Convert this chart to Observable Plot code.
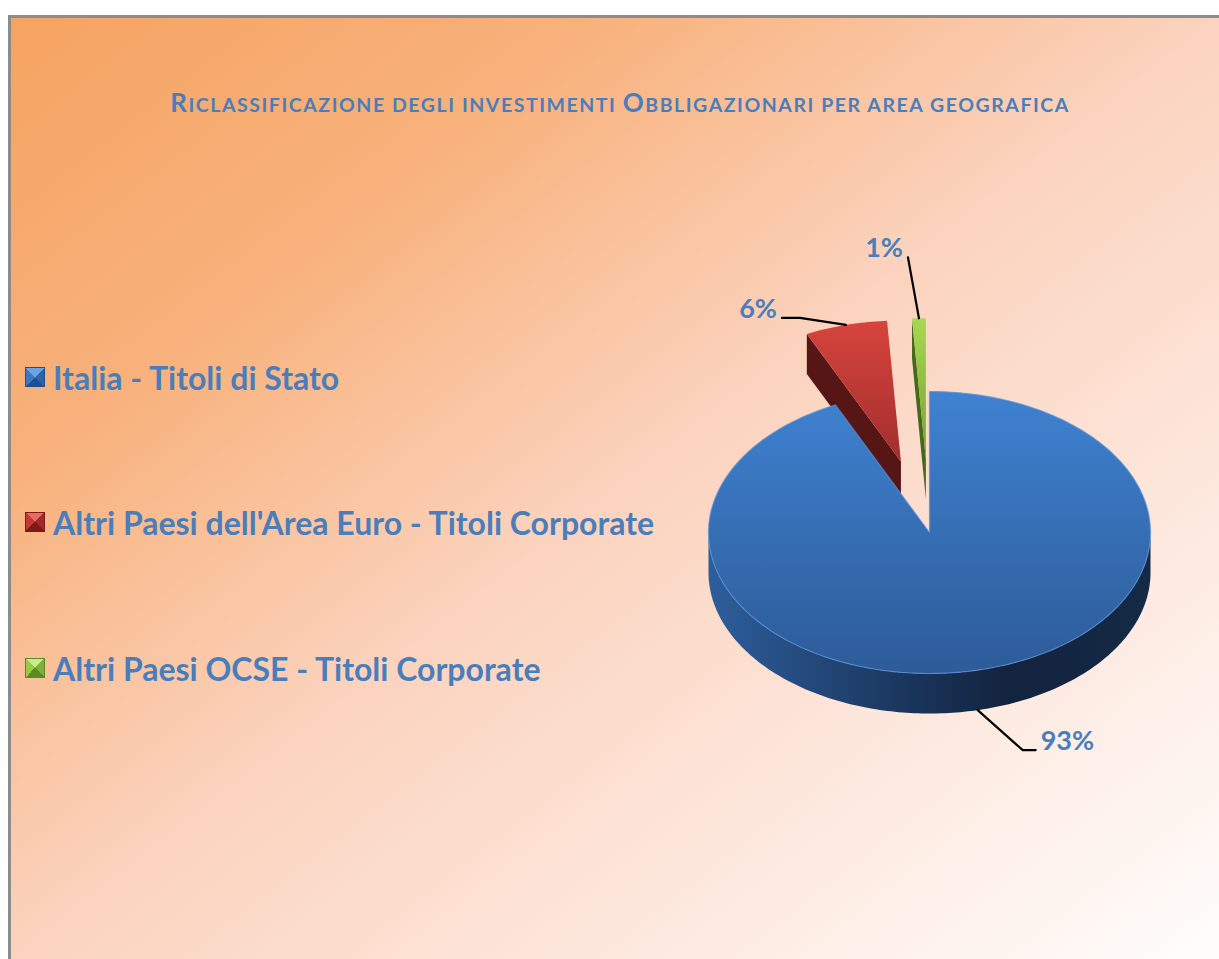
<!DOCTYPE html>
<html>
<head>
<meta charset="utf-8">
<script src="https://cdn.jsdelivr.net/npm/d3@7"></script>
<script src="https://cdn.jsdelivr.net/npm/@observablehq/plot@0.6"></script>
<style>
html, body { margin:0; padding:0; width:1219px; height:959px; overflow:hidden; background:#fff; font-family: Lato, "Open Sans", sans-serif; }
#frame { position:absolute; left:8px; top:15px; width:1211px; height:944px; box-sizing:border-box;
  border-left:3px solid #8c8c8c; border-top:3px solid #8c8c8c;
  background: linear-gradient(to bottom right, #f5a361 0%, #f8b27d 25%, #fbd3be 50%, #fde8de 75%, #fffdfc 100%); }
#title { position:absolute; left:8px; width:1224px; top:82px; height:40px; line-height:40px; text-align:center; color:#4a7ebb;
  font-weight:bold; font-family: Lato, sans-serif; white-space:nowrap; letter-spacing:1.55px; }
#title .big { font-size:26px; }
#title .small { font-size:19.5px; }
.leg { position:absolute; left:25px; display:flex; align-items:center; color:#4a7ebb; font: bold 32px Lato, sans-serif; white-space:nowrap; }
.sw { width:20px; height:20px; margin-right:8px; box-sizing:border-box; flex:none; }
#chart { position:absolute; left:0; top:0; }
</style>
</head>
<body>
<div id="frame"></div>
<div id="title"></div>
<div id="legend"></div>
<div id="chart"></div>
<script>
// ---- data ----
const titleText = "Riclassificazione degli investimenti Obbligazionari per area geografica";
const categories = [
  "Italia - Titoli di Stato",
  "Altri Paesi dell'Area Euro - Titoli Corporate",
  "Altri Paesi OCSE - Titoli Corporate"
];
const shares = [93, 6, 1];

// ---- layout / style ----
const W = 1219, H = 959;
const CX = 929, CY = 532, RX = 221, RY = 141, DEPTH = 40;
const explodeBy = [0, 0.52, 0.52];
const legendRowsY = [377, 522, 668];
const colors = [
  { top: ["#3f82d1", "#2d5b98"], side: "#1d3a63", swatch: ["#6aa3e6", "#3d78c2", "#1f4f8f", "#2f63a8"] },
  { top: ["#d6443d", "#a32e2c"], side: "#561616", swatch: ["#e86a63", "#c23a35", "#7d1a18", "#a02a27"] },
  { top: ["#a8d852", "#74a32e"], side: "#46691c", swatch: ["#c8ec86", "#99c948", "#5b8a22", "#7fb13a"] }
];
// leader line elbows (px offsets from rim anchor) and label side
const leaderOffsets = [
  [[45, 40], [58, 40]],
  [[-46, -7], [-64, -7]],
  [[-11, -61], [-11, -61]]
];
const labelSide = [1, -1, -1];
const labelColor = "#4a7ebb";

// ---- title (manual small caps) & legend (HTML) ----
const title = d3.select("#title");
for (const ch of titleText) {
  const isCap = ch !== ch.toLowerCase();
  title.append("span").attr("class", isCap ? "big" : "small").text(ch.toUpperCase());
}
const legend = d3.select("#legend");
categories.forEach((c, i) => {
  const s = colors[i].swatch;
  const row = legend.append("div").attr("class", "leg")
    .style("top", (legendRowsY[i] - 20) + "px").style("height", "40px");
  row.append("div").attr("class", "sw")
    .style("background", `conic-gradient(from -45deg, ${s[0]} 0deg 90deg, ${s[3]} 90deg 180deg, ${s[2]} 180deg 270deg, ${s[1]} 270deg 360deg)`)
    .style("border", `1px solid ${s[2]}`);
  row.append("span").text(c);
});

// ---- 3D pie geometry ----
const D = DEPTH / RY;
const arcs = d3.pie().sort(null).value(d => d)(shares);
function arcPts(a0, a1, ox, oy, drop) {
  const n = Math.max(2, Math.ceil((a1 - a0) / (Math.PI / 180)));
  const out = [];
  for (let k = 0; k <= n; k++) {
    const a = a0 + (a1 - a0) * k / n;
    out.push({ x: ox + Math.sin(a), y: oy + Math.cos(a) - drop });
  }
  return out;
}
const slices = arcs.map((a, i) => {
  const mid = (a.startAngle + a.endAngle) / 2;
  return { i, value: a.value, a0: a.startAngle, a1: a.endAngle, mid,
    ox: explodeBy[i] * Math.sin(mid), oy: explodeBy[i] * Math.cos(mid) };
});

const polys = [];
[...slices].sort((p, q) => Math.cos(q.mid) - Math.cos(p.mid)).forEach(s => {
  const { i, a0, a1, ox, oy } = s;
  if (Math.sin(a0) < -1e-6) {
    polys.push({ fill: `url(#side${i})`, pts: [
      { x: ox, y: oy }, { x: ox + Math.sin(a0), y: oy + Math.cos(a0) },
      { x: ox + Math.sin(a0), y: oy + Math.cos(a0) - D }, { x: ox, y: oy - D }] });
  }
  if (Math.sin(a1) > 1e-6) {
    polys.push({ fill: `url(#side${i})`, pts: [
      { x: ox, y: oy }, { x: ox + Math.sin(a1), y: oy + Math.cos(a1) },
      { x: ox + Math.sin(a1), y: oy + Math.cos(a1) - D }, { x: ox, y: oy - D }] });
  }
  const lo = Math.max(a0, Math.PI / 2), hi = Math.min(a1, 3 * Math.PI / 2);
  if (hi > lo) {
    polys.push({ fill: `url(#wall${i})`, pts: [...arcPts(lo, hi, ox, oy, 0), ...arcPts(lo, hi, ox, oy, D).reverse()] });
  }
  polys.push({ fill: `url(#top${i})`, stroke: i === 0 ? "#5b92dc" : "none",
    pts: [{ x: ox, y: oy }, ...arcPts(a0, a1, ox, oy, 0)] });
});

// labels & leaders
const ux = px => px / RX, uy = px => -px / RY;
const leaders = [], labelsData = [];
slices.forEach(s => {
  const front = Math.cos(s.mid) < 0;
  const ax = s.ox + Math.sin(s.mid), ay = s.oy + Math.cos(s.mid) - (front ? D : 0);
  const pts = [{ x: ax, y: ay }, ...leaderOffsets[s.i].map(([dx, dy]) => ({ x: ax + ux(dx), y: ay + uy(dy) }))];
  pts.forEach(p => leaders.push({ ...p, k: s.i }));
  const end = pts[pts.length - 1];
  labelsData.push({ x: end.x + ux(5 * labelSide[s.i]), y: end.y + uy(-9), text: `${s.value}%`, side: labelSide[s.i] });
});

const marks = polys.map(p => Plot.line(p.pts, { x: "x", y: "y", fill: p.fill, stroke: p.stroke || "none", strokeWidth: 1.2, strokeOpacity: 0.7, curve: "linear-closed" }));
marks.push(Plot.line(leaders, { x: "x", y: "y", z: "k", stroke: "#000", strokeWidth: 2.2 }));
marks.push(Plot.text(labelsData.filter(d => d.side > 0), { x: "x", y: "y", text: "text", textAnchor: "start", fill: labelColor, fontSize: 27, fontWeight: "bold", fontFamily: "Lato, sans-serif" }));
marks.push(Plot.text(labelsData.filter(d => d.side < 0), { x: "x", y: "y", text: "text", textAnchor: "end", fill: labelColor, fontSize: 27, fontWeight: "bold", fontFamily: "Lato, sans-serif" }));

const svg = Plot.plot({
  width: W, height: H, margin: 0,
  x: { domain: [-1, 1], range: [CX - RX, CX + RX], axis: null },
  y: { domain: [-1, 1], range: [CY + RY, CY - RY], axis: null },
  style: { background: "transparent", overflow: "visible" },
  marks
});

const defs = d3.select(svg).insert("defs", ":first-child");
function lin(id, stops, horizontal) {
  const g = defs.append("linearGradient").attr("id", id)
    .attr("x1", 0).attr("y1", 0).attr("x2", horizontal ? 1 : 0).attr("y2", horizontal ? 0 : 1);
  stops.forEach(([o, c]) => g.append("stop").attr("offset", o).attr("stop-color", c));
}
colors.forEach((c, i) => {
  lin(`top${i}`, [[0, c.top[0]], [1, c.top[1]]], false);
  lin(`side${i}`, [[0, c.side], [1, c.side]], false);
});
lin("wall0", [[0, "#2d5e9c"], [0.4, "#1c3a63"], [0.68, "#12233e"], [1, "#152a45"]], true);
lin("wall1", [[0, "#6a1c1c"], [1, "#3f0f0f"]], true);
lin("wall2", [[0, "#5a8225"], [1, "#3a5716"]], true);

document.getElementById("chart").appendChild(svg);
</script>
</body>
</html>
